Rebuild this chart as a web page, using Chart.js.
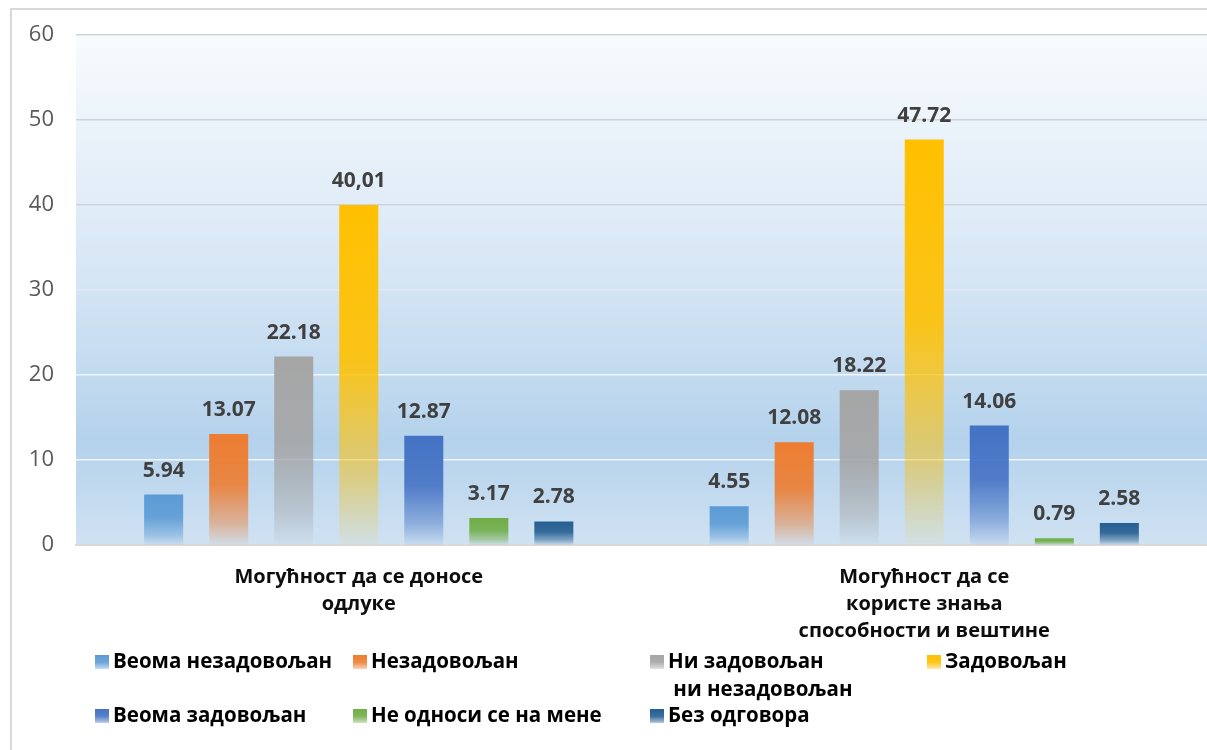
<!DOCTYPE html>
<html>
<head>
<meta charset="utf-8">
<script src="https://cdn.jsdelivr.net/npm/chart.js@4/dist/chart.umd.min.js"></script>
<style>
  html, body { margin: 0; padding: 0; background: #fff; }
  #wrap { width: 1207px; height: 750px; position: relative; }
</style>
</head>
<body>
<div id="wrap"><canvas id="chart"></canvas></div>
<script>
// categories (x axis, wrapped like in the original)
const categories = [
    ['Могућност да се доносе', 'одлуке'],
    ['Могућност да се', 'користе знања', 'способности и вештине']
];

const seriesNames = [
    'Веома незадовољан',
    'Незадовољан',
    'Ни задовољан ни незадовољан',
    'Задовољан',
    'Веома задовољан',
    'Не односи се на мене',
    'Без одговора'
];

const veomaNezadovoljan = [5.94, 4.55];
const nezadovoljan      = [13.07, 12.08];
const niNi              = [22.18, 18.22];
const zadovoljan        = [40.01, 47.72];
const veomaZadovoljan   = [12.87, 14.06];
const neOdnosi          = [3.17, 0.79];
const bezOdgovora       = [2.78, 2.58];

const yTicks = [0, 10, 20, 30, 40, 50, 60];

const seriesColors = ['#5b9bd5', '#ed7d31', '#a5a5a5', '#ffc000', '#4472c4', '#70ad47', '#255e91'];

// the source shows this one with a decimal comma
const labelOverrides = { '3-0': '40,01' };

const FONT = '"Open Sans", "Noto Sans", sans-serif';

function rgba(hex, a) {
    const n = parseInt(hex.slice(1), 16);
    return 'rgba(' + (n >> 16) + ',' + ((n >> 8) & 255) + ',' + (n & 255) + ',' + a + ')';
}

function fadeGradient(c2d, hex, top, bottom) {
    const g = c2d.createLinearGradient(0, top, 0, bottom);
    g.addColorStop(0, rgba(hex, 1));
    g.addColorStop(0.45, rgba(hex, 0.9));
    g.addColorStop(0.8, rgba(hex, 0.45));
    g.addColorStop(1, rgba(hex, 0.05));
    return g;
}

function barFill(ctx) {
    const base = seriesColors[ctx.datasetIndex];
    const chart = ctx.chart;
    if (!chart.chartArea || ctx.type !== 'data' || !chart.scales.y) return base;
    const ys = chart.scales.y;
    const top = ys.getPixelForValue(ctx.raw);
    const bottom = ys.getPixelForValue(0);
    if (!isFinite(top) || bottom - top < 1) return base;
    return fadeGradient(chart.ctx, base, top, bottom);
}

const seriesData = [veomaNezadovoljan, nezadovoljan, niNi, zadovoljan, veomaZadovoljan, neOdnosi, bezOdgovora];

const datasets = seriesData.map((d, i) => ({
    label: seriesNames[i],
    data: d,
    backgroundColor: barFill,
    borderWidth: 0,
    categoryPercentage: 0.805,
    barPercentage: 0.6
}));

// plot area background + outer frame
const backgroundPlugin = {
    id: 'plotBackground',
    beforeDraw(chart) {
        const { ctx, chartArea: a } = chart;
        ctx.save();
        ctx.strokeStyle = '#d9d9d9';
        ctx.lineWidth = 2;
        ctx.strokeRect(11, 9, 1300, 800);
        const g = ctx.createLinearGradient(0, a.top, 0, a.bottom);
        g.addColorStop(0, '#f8fbfe');
        g.addColorStop(0.45, '#d8e7f5');
        g.addColorStop(0.8, '#b4d2ec');
        g.addColorStop(1, '#d0e2f2');
        ctx.fillStyle = g;
        ctx.fillRect(a.left, a.top, a.right - a.left, a.bottom - a.top);
        ctx.restore();
    }
};

// value labels over the bars
const valueLabelPlugin = {
    id: 'valueLabels',
    afterDatasetsDraw(chart) {
        const ctx = chart.ctx;
        ctx.save();
        ctx.font = 'bold 21px ' + FONT;
        ctx.fillStyle = '#404040';
        ctx.textAlign = 'center';
        ctx.textBaseline = 'middle';
        chart.data.datasets.forEach((ds, di) => {
            chart.getDatasetMeta(di).data.forEach((bar, i) => {
                const txt = labelOverrides[di + '-' + i] || ds.data[i].toFixed(2);
                ctx.fillText(txt, bar.x, bar.y - 24);
            });
        });
        ctx.restore();
    }
};

// legend laid out in four columns like the source
const legendSlots = [
    { x: 95, y: 662 }, { x: 353, y: 662 }, { x: 650, y: 662 }, { x: 927, y: 662 },
    { x: 95, y: 716 }, { x: 353, y: 716 }, { x: 650, y: 716 }
];
const legendLines = [
    ['Веома незадовољан'],
    ['Незадовољан'],
    ['Ни задовољан', ' ни незадовољан'],
    ['Задовољан'],
    ['Веома задовољан'],
    ['Не односи се на мене'],
    ['Без одговора']
];

const legendPlugin = {
    id: 'gridLegend',
    afterDraw(chart) {
        const ctx = chart.ctx;
        ctx.save();
        ctx.font = 'bold 20.5px ' + FONT;
        ctx.textBaseline = 'middle';
        ctx.textAlign = 'left';
        legendSlots.forEach((s, i) => {
            ctx.fillStyle = fadeGradient(ctx, seriesColors[i], s.y - 7, s.y + 9);
            ctx.fillRect(s.x, s.y - 7, 14, 14);
            ctx.fillStyle = '#000';
            legendLines[i].forEach((line, j) => {
                ctx.fillText(line, s.x + 18, s.y + j * 28);
            });
        });
        ctx.restore();
    }
};

new Chart(document.getElementById('chart'), {
    type: 'bar',
    data: { labels: categories, datasets },
    options: {
        responsive: true,
        maintainAspectRatio: false,
        animation: false,
        layout: { padding: { top: 35, right: 0, left: 0, bottom: 0 } },
        plugins: {
            legend: { display: false },
            tooltip: { enabled: false }
        },
        scales: {
            x: {
                grid: { display: false, drawTicks: false },
                border: { display: true, color: '#d9d9d9', width: 2 },
                ticks: {
                    color: '#0d0d0d',
                    font: { family: FONT, size: 20, weight: 'bold', lineHeight: 1.35 },
                    padding: 19,
                    maxRotation: 0,
                    autoSkip: false
                },
                afterFit(s) { s.height = 205; }
            },
            y: {
                min: 0,
                max: 60,
                afterBuildTicks(s) { s.ticks = yTicks.map(v => ({ value: v })); },
                grid: {
                    drawTicks: false,
                    color: c => (c.tick && c.tick.value >= 40 ? '#cfd3d8' : (c.tick && c.tick.value === 30 ? '#e1e9f1' : '#f2f6fa')),
                    lineWidth: c => (c.tick && c.tick.value === 0 ? 0 : 1.5)
                },
                border: { display: false },
                ticks: {
                    color: '#595959',
                    font: { family: FONT, size: 22 },
                    padding: 22
                },
                afterFit(s) { s.width = 76; }
            }
        }
    },
    plugins: [backgroundPlugin, valueLabelPlugin, legendPlugin]
});
</script>
</body>
</html>
